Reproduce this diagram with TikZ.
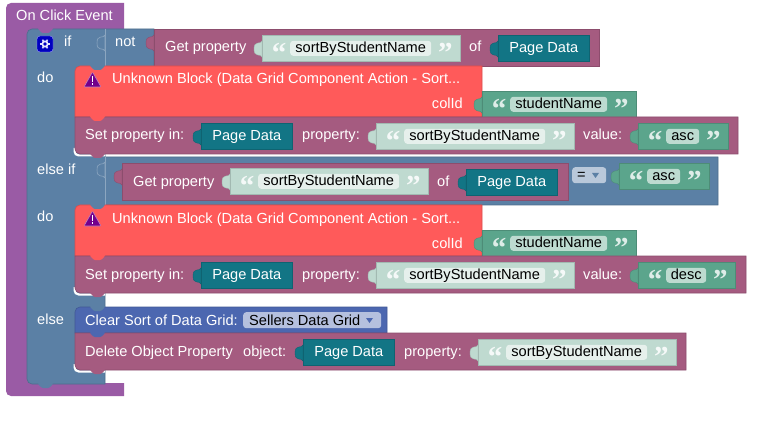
\documentclass[tikz,border=0pt]{standalone}
\usepackage{fontspec}
\setmainfont{Liberation Sans}
\newfontfamily\quotefont{Liberation Serif}
\usetikzlibrary{calc}
\definecolor{hatcol}{HTML}{9A5BA5}
\definecolor{ctlcol}{HTML}{5B80A5}
\definecolor{pinkcol}{HTML}{A55B80}
\definecolor{redcol}{HTML}{FF5A5A}
\definecolor{tealcol}{HTML}{127585}
\definecolor{clearcol}{HTML}{4C67B0}
\definecolor{strltcol}{HTML}{BFDAD0}
\definecolor{fldltcol}{HTML}{E6F0EC}
\definecolor{strgrcol}{HTML}{5BA58C}
\definecolor{fldgrcol}{HTML}{BDDBD0}
\definecolor{ddcol}{HTML}{B5C0DE}
\definecolor{eqcol}{HTML}{B9C8DA}
\tikzset{
	blocktxt/.style={font=\fontsize{14.6}{16}\selectfont},
	lbl/.style={blocktxt,text=white,anchor=base west,inner sep=0pt},
	lblr/.style={blocktxt,text=white,anchor=base east,inner sep=0pt},
	blk/.style={fill=#1,draw=#1!85!black,line width=.6pt},
	tabedge/.style={fill=#1,draw=#1!85!black,line width=.4pt},
	pagedata/.style={blk=tealcol,blocktxt,text=white,anchor=north west,inner sep=0pt,minimum width=91pt,minimum height=26pt,text height=10.5pt,text depth=3pt},
	strlt/.style={blk=strltcol,anchor=north west,inner sep=0pt,minimum height=26pt},
	strgr/.style={blk=strgrcol,anchor=north west,inner sep=0pt,minimum height=26pt},
	fldlt/.style={fill=fldltcol,blocktxt,text=black,rounded corners=3pt,inner sep=0pt,minimum height=15pt,text height=10.5pt,text depth=3pt},
	fldgr/.style={fill=fldgrcol,blocktxt,text=black,rounded corners=3pt,inner sep=0pt,minimum height=15pt,text height=10.5pt,text depth=3pt},
	qtlt/.style={text=white!85!strltcol,font=\quotefont\bfseries\fontsize{29}{29}\selectfont,inner sep=0pt,yshift=-5pt},
	qtgr/.style={text=white!80!strgrcol,font=\quotefont\bfseries\fontsize{29}{29}\selectfont,inner sep=0pt,yshift=-5pt},
	ddnode/.style={fill=#1,blocktxt,text=black,rounded corners=3pt,anchor=north west,inner sep=0pt,minimum height=16pt},
}
% puzzle tab on the left of a value block
\newcommand{\puztab}[3]{\filldraw[#3] (#1,#2-1) .. controls (#1-1.5,#2+3) and (#1-8,#2-2) .. (#1-8,#2+7) .. controls (#1-8,#2+16) and (#1-1.5,#2+11) .. (#1,#2+15) -- cycle;}
% bump of the next-statement connection
\newcommand{\nxtbump}[3]{\fill[#3,rounded corners=1pt] (#1,#2-1) -- (#1,#2) -- (#1+4,#2+4) -- (#1+11,#2+4) -- (#1+15,#2) -- (#1+15,#2-1) -- cycle;}
% white edge at the lower left corner of a statement block
\newcommand{\cornerhl}[1]{\draw[white,line width=2.2pt,rounded corners=4pt] (74.6,#1-6) -- (74.6,#1+1.4) -- (105,#1+1.4);}
% string block: name, x, y, field width, text, lt/gr
\newcommand{\strval}[6]{%
	\puztab{#2}{#3+7}{tabedge=str#6col}
	\node[str#6,minimum width=#4pt+57pt] (#1) at (#2,#3) {};
	\node[fld#6,anchor=west,minimum width=#4pt] (#1txt) at ([xshift=28pt]#1.west) {#5};
	\node[qt#6] (#1open) at ([xshift=17pt]#1.west) {“};
	\node[qt#6] (#1close) at ([xshift=14pt]#1txt.east) {”};
}
\begin{document}
\begin{tikzpicture}[x=1pt,y=-1pt]
	\path[use as bounding box,fill=white] (0,0) rectangle (769,433);
	% outer event block
	\fill[hatcol] (124,29) -- (124,3) [rounded corners=5pt] -- (6,3) -- (6,396) [sharp corners] -- (124,396) -- (124,383) -- (35,383) -- (35,29) -- cycle;
	% if / else spine
	\draw[blk=ctlcol,rounded corners=5pt] (27,29) [sharp corners] -- (154,29) -- (154,70) -- (105,70) -- (105,157) -- (718,157) -- (718,205) -- (105,205) -- (105,384) [rounded corners=5pt] -- (27,384) -- cycle;
	\nxtbump{38}{29}{hatcol}
	\nxtbump{38}{384}{ctlcol}
	\node[lbl] (event) at (16,21) {On Click Event};
	\node[lbl] (iflbl) at (64,47) {if};
	\node[lbl] (notlbl) at (115,47) {not};
	\node[lbl] (do1) at (37,83) {do};
	\node[lbl] (elseif) at (37,175) {else if};
	\node[lbl] (do2) at (37,222) {do};
	\node[lbl] (elselbl) at (37,324) {else};
	\draw[ctlcol!70!white,line width=.6pt] (105,29) -- (105,66) (105,157) -- (105,205);
	\puztab{105}{36}{fill=ctlcol,draw=ctlcol!70!white,line width=.6pt}
	\puztab{105}{163}{fill=ctlcol,draw=ctlcol!70!white,line width=.6pt}
	% gear icon
	\node[fill=blue!75!black,draw=white!60!blue,rounded corners=3pt,minimum size=16pt,inner sep=0pt] (gear) at (45,44) {};
	\fill[white!90!blue] (gear.center) circle (3.6pt);
	\foreach \a in {0,60,...,300} \draw[white!90!blue,line width=1.5pt] (gear.center) -- ++(\a:5pt);
	\fill[blue!75!black] (gear.center) circle (1.8pt);
	% first test
	\puztab{154}{36}{tabedge=pinkcol}
	\draw[blk=pinkcol] (154,29) rectangle (599,66);
	\node[lbl] (get1) at (165,52) {Get property};
	\strval{sort1}{262}{35}{141}{sortByStudentName}{lt}
	\node[lbl] (of1) at (469,52) {of};
	\puztab{498}{42}{tabedge=tealcol}
	\node[pagedata] (page1) at (498,35) {Page Data};
	% first do
	\draw[blk=redcol,rounded corners=5pt] (75,117) -- (75,66) [sharp corners] -- (482,66) -- (482,117) -- cycle;
	\nxtbump{90}{66}{ctlcol}
	\filldraw[fill=violet!90!blue,draw=white!50!violet,rounded corners=1pt,line width=.6pt] (92.5,72) -- (101,87) -- (84,87) -- cycle;
	\draw[white,line width=1.6pt] (92.5,76.5) -- (92.5,82) (92.5,83.5) -- (92.5,85);
	\node[lbl] (unk1) at (112,84) {Unknown Block (Data Grid Component Action - Sort...};
	\node[lblr] (col1) at (463,109) {colId};
	\strval{stud1}{482}{91}{97}{studentName}{gr}
	% first set property
	\cornerhl{154}
	\draw[blk=pinkcol] (75,117) -- (738,117) -- (738,154) [rounded corners=5pt] -- (75,154) [sharp corners] -- cycle;
	\nxtbump{90}{117}{redcol}
	\nxtbump{90}{154}{pinkcol}
	\node[lbl] (set1) at (85,140) {Set property in:};
	\puztab{201}{130}{tabedge=tealcol}
	\node[pagedata] (page2) at (201,123) {Page Data};
	\node[lbl] (prop1) at (302,140) {property:};
	\strval{sort2}{376}{123}{141}{sortByStudentName}{lt}
	\node[lbl] (val1) at (583,140) {value:};
	\strval{asc1}{638}{123}{33}{asc}{gr}
	% second test
	\puztab{122}{170}{tabedge=pinkcol}
	\draw[blk=pinkcol] (122,163) rectangle (568,200);
	\node[lbl] (get2) at (133,186) {Get property};
	\strval{sort3}{230}{168}{141}{sortByStudentName}{lt}
	\node[lbl] (of2) at (437,186) {of};
	\puztab{466}{176}{tabedge=tealcol}
	\node[pagedata] (page3) at (466,169) {Page Data};
	\node[ddnode=eqcol,minimum width=34pt] (eqdd) at (572,167) {};
	\node[lbl,text=black] (eqlbl) at (577,180) {=};
	\fill[ctlcol] (592,173) -- (599,173) -- (595.5,178) -- cycle;
	\strval{asc2}{619}{163}{33}{asc}{gr}
	% second do
	\draw[blk=redcol,rounded corners=5pt] (75,256) -- (75,205) [sharp corners] -- (482,205) -- (482,256) -- cycle;
	\nxtbump{90}{205}{ctlcol}
	\filldraw[fill=violet!90!blue,draw=white!50!violet,rounded corners=1pt,line width=.6pt] (92.5,211) -- (101,226) -- (84,226) -- cycle;
	\draw[white,line width=1.6pt] (92.5,215.5) -- (92.5,221) (92.5,222.5) -- (92.5,224);
	\node[lbl] (unk2) at (112,223) {Unknown Block (Data Grid Component Action - Sort...};
	\node[lblr] (col2) at (463,248) {colId};
	\strval{stud2}{482}{230}{97}{studentName}{gr}
	% second set property
	\cornerhl{293}
	\draw[blk=pinkcol] (75,256) -- (746,256) -- (746,293) [rounded corners=5pt] -- (75,293) [sharp corners] -- cycle;
	\nxtbump{90}{256}{redcol}
	\nxtbump{90}{293}{pinkcol}
	\node[lbl] (set2) at (85,279) {Set property in:};
	\puztab{201}{269}{tabedge=tealcol}
	\node[pagedata] (page4) at (201,262) {Page Data};
	\node[lbl] (prop2) at (302,279) {property:};
	\strval{sort4}{376}{262}{141}{sortByStudentName}{lt}
	\node[lbl] (val2) at (583,279) {value:};
	\strval{desc1}{638}{262}{40}{desc}{gr}
	% else branch
	\draw[blk=clearcol,rounded corners=5pt] (75,333) -- (75,307) [sharp corners] -- (387,307) -- (387,333) -- cycle;
	\nxtbump{90}{307}{ctlcol}
	\node[lbl] (clear) at (85,325) {Clear Sort of Data Grid:};
	\node[ddnode=ddcol,minimum width=138pt] (griddd) at (243,312) {};
	\node[lbl,text=black] (gridlbl) at (249,325) {Sellers Data Grid};
	\fill[clearcol] (366,318) -- (373,318) -- (369.5,323) -- cycle;
	\cornerhl{370}
	\draw[blk=pinkcol] (75,333) -- (686,333) -- (686,370) [rounded corners=5pt] -- (75,370) [sharp corners] -- cycle;
	\nxtbump{90}{333}{clearcol}
	\nxtbump{90}{370}{pinkcol}
	\node[lbl] (del) at (85,356) {Delete Object Property};
	\node[lbl] (obj) at (243,356) {object:};
	\puztab{303}{346}{tabedge=tealcol}
	\node[pagedata] (page5) at (303,339) {Page Data};
	\node[lbl] (prop3) at (404,356) {property:};
	\strval{sort5}{478}{339}{141}{sortByStudentName}{lt}
\end{tikzpicture}
\end{document}
